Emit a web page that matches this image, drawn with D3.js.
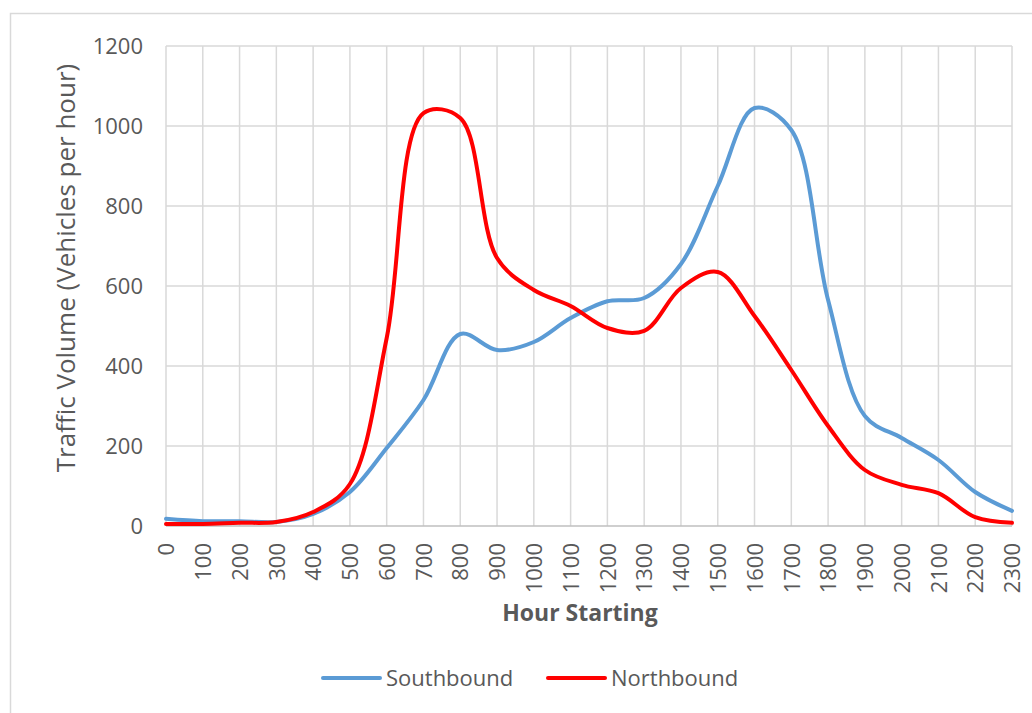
<!DOCTYPE html>
<html>
<head>
<meta charset="utf-8">
<script src="https://cdn.jsdelivr.net/npm/d3@7"></script>
<style>
  html, body { margin: 0; padding: 0; background: #ffffff; }
  svg { display: block; }
  text { font-family: "Open Sans", "Noto Sans", sans-serif; fill: #595959; }
</style>
</head>
<body>
<svg id="chart" width="1032" height="713"></svg>
<script>
// Hourly traffic counts, by direction
const hours = [0, 100, 200, 300, 400, 500, 600, 700, 800, 900, 1000, 1100,
               1200, 1300, 1400, 1500, 1600, 1700, 1800, 1900, 2000, 2100, 2200, 2300];
const southbound = [18, 12, 12, 10, 30, 85, 195, 315, 480, 440, 460, 520,
                    562, 570, 655, 850, 1045, 990, 565, 275, 220, 165, 85, 38];
const northbound = [5, 5, 8, 10, 35, 105, 470, 1032, 1020, 670, 590, 550,
                    495, 488, 595, 635, 525, 390, 250, 140, 103, 82, 22, 8];
const yTicks = [0, 200, 400, 600, 800, 1000, 1200];
const seriesNames = ["Southbound", "Northbound"];
const seriesColors = ["#5B9BD5", "#FF0000"];

const svg = d3.select("#chart");
const plot = { left: 166, right: 1012, top: 46, bottom: 526 };

const x = d3.scalePoint()
  .domain(hours)
  .range([plot.left, plot.right]);

const y = d3.scaleLinear()
  .domain([0, 1200])
  .range([plot.bottom, plot.top]);

// Outer chart border
svg.append("rect")
  .attr("x", 10.5).attr("y", 13.5)
  .attr("width", 1040).attr("height", 720)
  .attr("fill", "none")
  .attr("stroke", "#d9d9d9")
  .attr("stroke-width", 1.5);

// Gridlines
const grid = svg.append("g").attr("class", "grid");
grid.selectAll("line.h")
  .data(yTicks.filter(d => d > 0))
  .join("line")
  .attr("class", "h")
  .attr("x1", plot.left).attr("x2", plot.right)
  .attr("y1", d => y(d)).attr("y2", d => y(d))
  .attr("stroke", "#d9d9d9").attr("stroke-width", 1.5);

grid.selectAll("line.v")
  .data(hours)
  .join("line")
  .attr("class", "v")
  .attr("x1", d => x(d)).attr("x2", d => x(d))
  .attr("y1", plot.top).attr("y2", plot.bottom)
  .attr("stroke", "#d9d9d9").attr("stroke-width", 1.5);

// Category axis line
svg.append("line")
  .attr("x1", plot.left).attr("x2", plot.right)
  .attr("y1", y(0)).attr("y2", y(0))
  .attr("stroke", "#bfbfbf").attr("stroke-width", 1.5);

// Y axis labels
const yAxis = d3.axisLeft(y).tickValues(yTicks).tickFormat(d3.format("d"))
  .tickSize(0).tickPadding(23);
svg.append("g")
  .attr("transform", `translate(${plot.left},0)`)
  .call(yAxis)
  .call(g => g.select(".domain").remove())
  .call(g => g.selectAll("text")
    .attr("fill", "#595959")
    .style("font-family", '"Open Sans", sans-serif')
    .style("font-size", "22px"));

// X axis labels, rotated
const xAxis = d3.axisBottom(x).tickSize(0).tickPadding(0);
svg.append("g")
  .attr("transform", `translate(0,${plot.bottom})`)
  .call(xAxis)
  .call(g => g.select(".domain").remove())
  .call(g => g.selectAll("text")
    .attr("fill", "#595959")
    .style("font-family", '"Open Sans", sans-serif')
    .style("font-size", "22px")
    .attr("text-anchor", "end")
    .attr("dy", "0.35em")
    .attr("y", 0)
    .attr("transform", "translate(0,17) rotate(-90)"));

// Axis titles
svg.append("text")
  .attr("transform", "translate(66,268) rotate(-90)")
  .attr("text-anchor", "middle")
  .attr("dy", "0.35em")
  .style("font-size", "26px")
  .text("Traffic Volume (Vehicles per hour)");

svg.append("text")
  .attr("x", 580).attr("y", 621)
  .attr("text-anchor", "middle")
  .style("font-size", "23px")
  .style("font-weight", "bold")
  .text("Hour Starting");

// Series lines
const line = d3.line()
  .x((d, i) => x(hours[i]))
  .y(d => y(d))
  .curve(d3.curveCatmullRom.alpha(0.5));

[southbound, northbound].forEach((vals, i) => {
  svg.append("path")
    .datum(vals)
    .attr("fill", "none")
    .attr("stroke", seriesColors[i])
    .attr("stroke-width", 4)
    .attr("stroke-linejoin", "round")
    .attr("stroke-linecap", "round")
    .attr("d", line);
});

// Legend
const legendItems = [
  { name: seriesNames[0], color: seriesColors[0], x: 323 },
  { name: seriesNames[1], color: seriesColors[1], x: 548 }
];
const legend = svg.append("g").attr("class", "legend");
legendItems.forEach(item => {
  legend.append("line")
    .attr("x1", item.x).attr("x2", item.x + 57)
    .attr("y1", 678).attr("y2", 678)
    .attr("stroke", item.color)
    .attr("stroke-width", 4)
    .attr("stroke-linecap", "round");
  legend.append("text")
    .attr("x", item.x + 63).attr("y", 678)
    .attr("dy", "0.35em")
    .style("font-size", "22px")
    .text(item.name);
});
</script>
</body>
</html>
